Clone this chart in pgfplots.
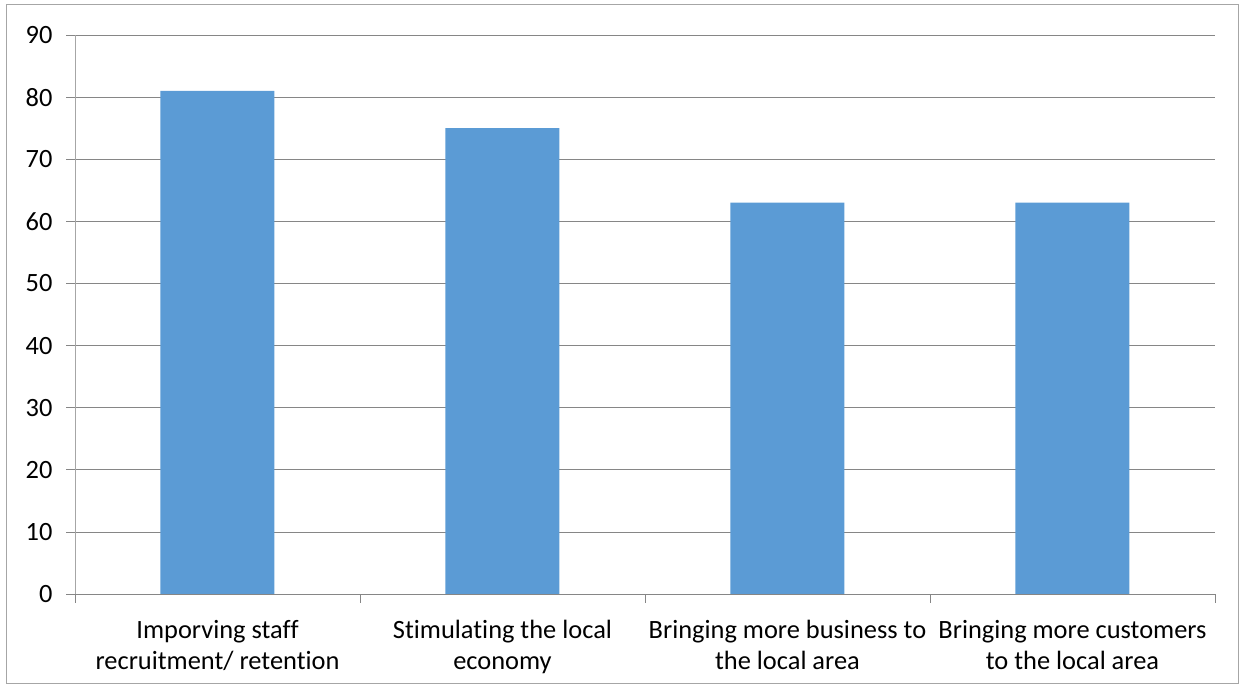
\documentclass[border=0pt]{standalone}
\usepackage{pgfplots}
\pgfplotsset{compat=1.18}
\usepackage{fontspec}
\setmainfont{Carlito}[Ligatures=NoCommon]
\definecolor{barblue}{HTML}{5B9BD5}
\definecolor{gridgray}{HTML}{868686}
\definecolor{framegray}{HTML}{A6A6A6}
\begin{document}
\begin{tikzpicture}[x=1bp,y=1bp]
\useasboundingbox (0,0) rectangle (1244,689);
\draw[framegray, line width=1bp] (6,5) rectangle (1238,684);
\begin{axis}[
  at={(75bp,95bp)}, anchor=south west,
  scale only axis, width=1140bp, height=559bp,
  xmin=-0.5, xmax=3.5, ymin=0, ymax=90,
  ytick={0,10,...,90},
  xtick={0,1,2,3},
  xticklabels={{Imporving staff\\recruitment/ retention},{Stimulating the local\\economy},{Bringing more business to\\the local area},{Bringing more customers\\to the local area}},
  minor xtick={-0.5,0.5,1.5,2.5,3.5},
  major x tick style={draw=none},
  minor x tick style={gridgray, line width=0.75bp},
  minor tick length=9bp,
  major tick length=9bp,
  tick align=outside,
  axis x line*=bottom, axis y line*=left,
  axis line style={gridgray, line width=0.75bp, -},
  y axis line style={framegray},
  ymajorgrids, grid style={gridgray, line width=0.75bp},
  ytick style={gridgray, line width=0.75bp},
  tick label style={font=\fontsize{26.5}{30.5}\selectfont, black},
  yticklabel style={xshift=-10bp},
  xticklabel style={align=center, yshift=-14bp},
  /pgf/number format/assume math mode=true,
  clip=false,
]
\addplot[ybar, bar width=114bp, fill=barblue, draw=none] coordinates {(0,81) (1,75) (2,63) (3,63)};
\end{axis}
\end{tikzpicture}
\end{document}
